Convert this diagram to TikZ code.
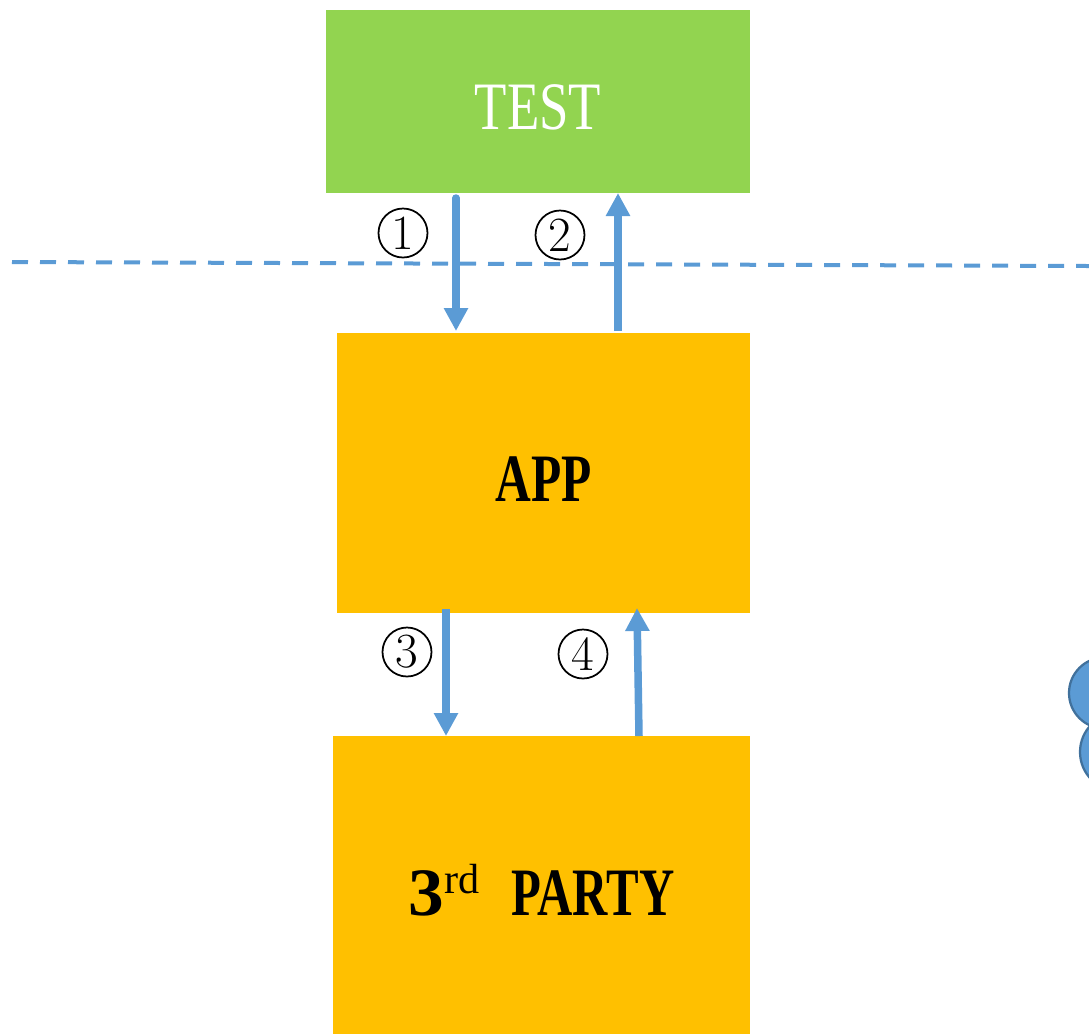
\documentclass[tikz,border=0pt]{standalone}
\usepackage{fontspec}
\setmainfont{Liberation Serif}
\newfontfamily\digitfont{Latin Modern Roman}
\usetikzlibrary{arrows.meta,positioning,calc}
\definecolor{testgreen}{HTML}{92D450}
\definecolor{boxorange}{HTML}{FFC000}
\definecolor{linkblue}{HTML}{5B9BD5}
\definecolor{cloudedge}{HTML}{41719C}
\newcommand{\boxlabel}[2]{\raisebox{#1}[0pt][0pt]{#2}}
\tikzset{
  sysbox/.style={inner sep=0pt,outer sep=0pt,font=\fontsize{38.6}{40}\selectfont},
  linkarrow/.style={line width=1.5mm,color=linkblue,-{Triangle[length=4.6mm,width=4.6mm]}},
  stepnum/.style={circle,draw=black,line width=0.35mm,inner sep=0pt,minimum size=9.8mm,font=\fontsize{28}{28}\digitfont},
  cloudpart/.style={fill=linkblue,draw=cloudedge,line width=0.45mm}
}
\begin{document}
\begin{tikzpicture}[x=0.2mm,y=-0.2mm]
\useasboundingbox (0,0) rectangle (1089,1034);
\clip (0,0) rectangle (1089,1034);
\draw[linkblue,line width=0.8mm,dash pattern=on 3.2mm off 2.4mm] (12,262) coordinate (lineleft) -- (1089,266) coordinate (lineright);
\node[sysbox,fill=testgreen,text=white,minimum width=84.8mm,minimum height=36.6mm] (test) at (538,101.5) {\boxlabel{-5.5mm}{\scalebox{.78}[1]{TEST}}};
\node[sysbox,fill=boxorange,minimum width=82.6mm,minimum height=56mm] (app) at (543.5,473) {\boxlabel{-5.6mm}{\bfseries\scalebox{.73}[1]{APP}}};
\node[sysbox,fill=boxorange,minimum width=83.4mm,minimum height=59.6mm] (party) at (541.5,885) {\boxlabel{-6mm}{\bfseries\scalebox{1.05}[1]{3}\raisebox{4.4mm}{\fontsize{24}{24}\mdseries\selectfont rd}\hspace{6.4mm}\scalebox{.72}[1]{PARTY}}};
\coordinate (t1) at (456,198);
\coordinate (a1) at (456,331);
\coordinate (t2) at (618,193);
\coordinate (a2) at (618,331);
\coordinate (a3) at (446,609);
\coordinate (p3) at (446,736);
\coordinate (a4) at (637,608);
\coordinate (p4) at (639,736);
\draw[linkarrow,line cap=round] (t1) -- (a1);
\draw[linkarrow] (a2) -- (t2);
\draw[linkarrow] (a3) -- (p3);
\draw[linkarrow] (p4) -- (a4);
\node[stepnum] (one) at (403,233) {1};
\node[stepnum] (two) at (560,235) {2};
\node[stepnum] (three) at (407,652) {3};
\node[stepnum] (four) at (583,654) {4};
\draw[cloudpart] (1119,752) circle (39);
\draw[cloudpart] (1104.6,693) circle (35.6);
\end{tikzpicture}
\end{document}
